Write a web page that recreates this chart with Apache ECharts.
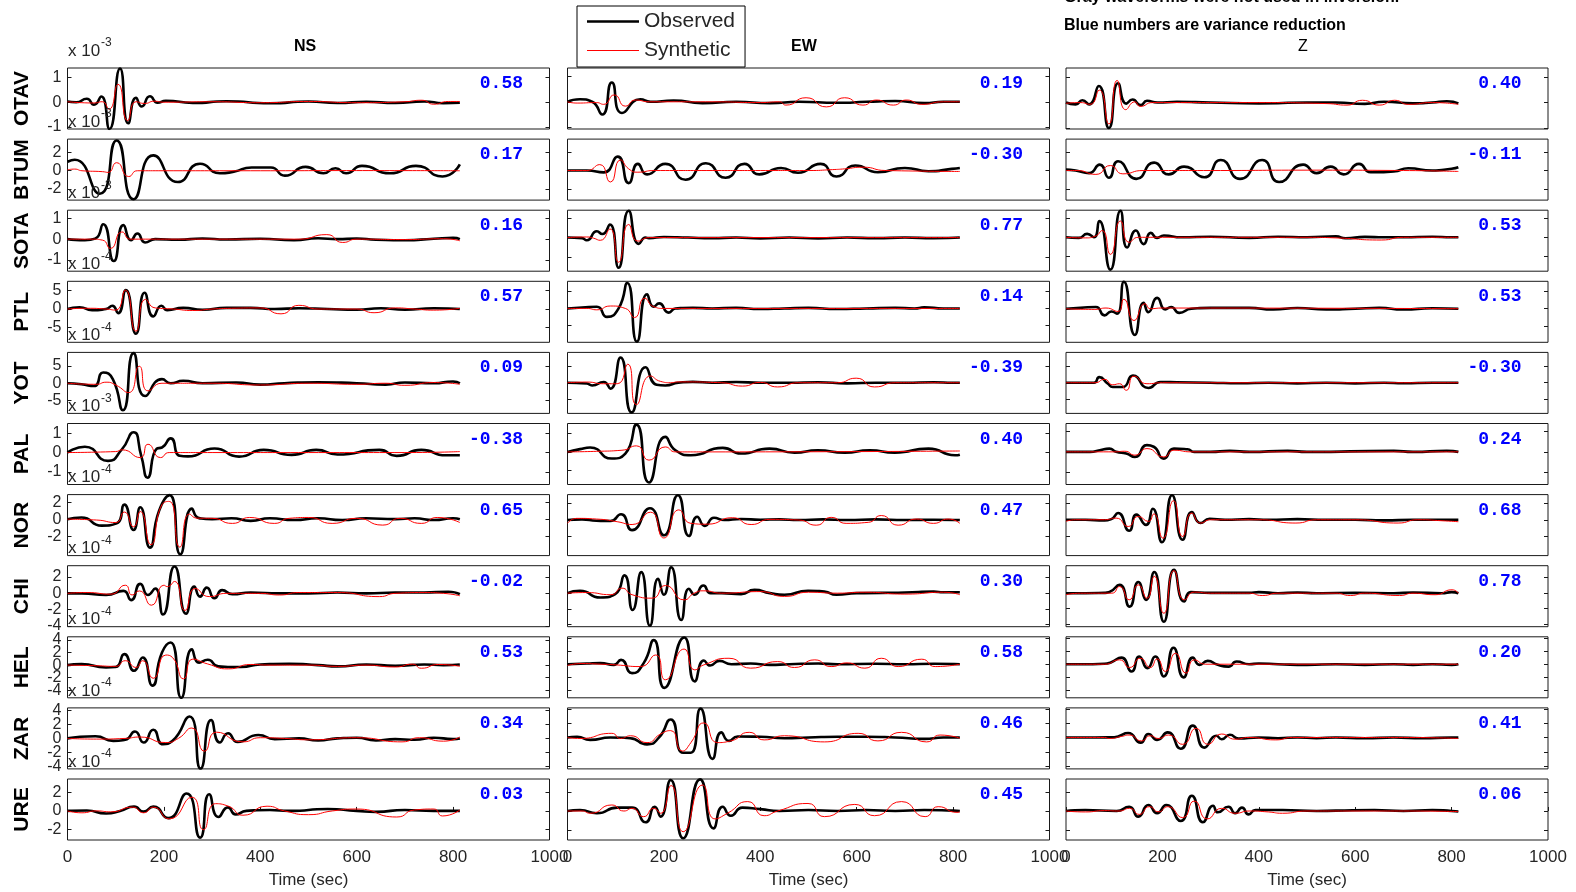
<!DOCTYPE html>
<html><head><meta charset="utf-8">
<script src="https://cdn.jsdelivr.net/npm/echarts@6/dist/echarts.min.js"></script>
<style>html,body{margin:0;padding:0;background:#fff}#c{width:1576px;height:892px}</style>
</head><body><div id="c"></div>
<script>
// ---------------- DATA ----------------
const stations = ['OTAV','BTUM','SOTA','PTL','YOT','PAL','NOR','CHI','HEL','ZAR','URE'];
const components = ['NS','EW','Z'];
const exponentNS = ['-3','-3','-3','-4','-4','-3','-4','-4','-4','-4','-4'];
const vrNS = [0.58, 0.17, 0.16, 0.57, 0.09, -0.38, 0.65, -0.02, 0.53, 0.34, 0.03];
const vrEW = [0.19, -0.30, 0.77, 0.14, -0.39, 0.40, 0.47, 0.30, 0.58, 0.46, 0.45];
const vrZ  = [0.40, -0.11, 0.53, 0.53, -0.30, 0.24, 0.68, 0.78, 0.20, 0.41, 0.06];
const xTicks = [0, 200, 400, 600, 800, 1000];
const ticksNS = [[-1,0,1],[-2,0,2],[-1,0,1],[-5,0,5],[-5,0,5],[-1,0,1],[-2,0,2],[-4,-2,0,2],[-4,-2,0,2,4],[-4,-2,0,2,4],[-2,0,2]];
const ticksEW = [[-1,0,1],[-1,0,1],[-1,0,1],[-1,0,1],[-1,0,1],[-1,0,1],[-1,0,1],[-2,-1,0,1],[-2,-1,0,1,2],[-2,-1,0,1,2],[-1,0,1]];
const ticksZ  = [[-1,0,1],[-1,0,1],[-1,0,1],[-1,0,1],[-1,0,1],[-1,0,1],[-1,0,1],[-2,-1,0,1],[-2,-1,0,1,2],[-2,-1,0,1,2],[-1,0,1]];
const limNS = [[-1.08,1.38],[-3.2,3.45],[-1.55,1.4],[-9.0,7.5],[-8.7,8.9],[-1.65,1.5],[-4.3,2.9],[-4.1,3.4],[-5.2,4.5],[-4.4,4.4],[-3.1,3.4]];
const limEW = [[-1.07,1.33],[-1.6,1.7],[-1.72,1.4],[-1.96,1.57],[-1.82,1.8],[-1.78,1.55],[-2.14,1.53],[-2.15,1.76],[-2.55,2.08],[-2.2,2.07],[-1.54,1.7]];
const limZ  = [[-1.04,1.36],[-1.6,1.7],[-1.75,1.4],[-1.96,1.6],[-1.82,1.8],[-1.6,1.39],[-2.18,1.53],[-2.17,1.78],[-2.55,2.08],[-2.2,2.07],[-1.54,1.7]];

// waveforms: [time (s), amplitude] at turning points
const NS_OTAV_obs = [[0,0.03],[18,0],[40,0.14],[55,-0.1],[70,0.23],[87,-1.08],[109,1.36],[126,-0.85],[142,0.18],[154,-0.17],[171,0.24],[187,-0.02],[204,0.06],[260,-0.03],[330,0.04],[420,-0.04],[500,0.03],[560,-0.03],[620,0.02],[680,-0.03],[740,0.03],[780,-0.04],[814,-0.02]];
const NS_OTAV_syn = [[0,0.02],[30,-0.02],[55,-0.03],[72,0.02],[86,-0.28],[105,0.72],[125,-0.74],[142,0.02],[160,-0.05],[180,0.04],[200,0],[300,0.02],[400,-0.02],[500,0.03],[600,-0.02],[700,0.02],[735,0.08],[760,-0.08],[790,0.03],[814,0.03]];
const NS_BTUM_obs = [[0,0.98],[15,1.2],[67,-2.5],[102,3.3],[137,-3.1],[178,1.68],[229,-1.23],[275,0.77],[316,-0.28],[345,-0.1],[382,0.35],[422,0.35],[451,-0.53],[494,0.42],[531,-0.28],[556,0.28],[578,-0.28],[611,0.53],[669,-0.28],[723,0.53],[778,-0.63],[814,0.7]];
const NS_BTUM_syn = [[0,0.1],[15,0.18],[30,0],[73,-0.1],[84,-0.18],[102,0.88],[127,-0.63],[145,0],[200,0],[400,0],[600,0.02],[814,0]];
const NS_SOTA_obs = [[0,0],[36,-0.05],[58,0.03],[74,0.72],[96,-1.06],[116,0.68],[132,-0.05],[145,0.27],[161,-0.16],[182,0],[230,-0.03],[280,0.03],[330,-0.02],[400,0.02],[470,-0.05],[520,0.04],[560,0],[600,0.03],[640,-0.03],[700,-0.05],[760,0.02],[800,0.06],[814,0]];
const NS_SOTA_syn = [[0,0],[50,0],[73,-0.05],[89,-0.45],[113,0.35],[131,0],[300,0],[480,0],[538,0.22],[571,-0.16],[600,0],[700,-0.02],[780,0.02],[814,-0.08]];
const NS_PTL_obs = [[0,0],[25,0.5],[51,-0.3],[80,0],[93,0.9],[105,-1.1],[121,5.1],[142,-6.7],[160,4.4],[178,-2.0],[195,0.9],[207,-0.3],[240,0.3],[280,-0.2],[330,0.3],[380,0.3],[430,0],[480,0.2],[540,0],[600,-0.2],[650,0.2],[700,-0.2],[760,0.2],[814,0]];
const NS_PTL_syn = [[0,0],[40,0.2],[80,0],[100,-0.3],[120,5.1],[142,-6.0],[162,2.6],[182,0.3],[220,0],[260,-0.4],[300,0],[340,0.2],[400,0.3],[443,-1.3],[480,1.0],[520,0],[600,0],[636,-1.0],[680,0.3],[720,0],[760,-0.3],[814,0.2]];
const NS_YOT_obs = [[0,0],[29,-0.3],[55,-0.8],[74,3.1],[94,1.2],[115,-7.8],[137,8.7],[161,-3.7],[196,1.2],[214,0],[240,0.7],[280,0],[350,0.2],[400,-0.4],[450,0],[520,0.3],[600,0],[660,-0.4],[700,0.2],[760,0],[800,0.5],[814,0]];
const NS_YOT_syn = [[0,0],[60,-0.3],[80,0.3],[100,-0.5],[127,-2.7],[149,4.9],[167,-2.2],[196,0],[300,0],[400,-0.5],[500,0],[600,-0.3],[660,0],[700,-0.6],[760,0.2],[814,-0.3]];
const NS_PAL_obs = [[0,0],[36,0.3],[84,-0.43],[113,0.17],[137,1.05],[153,-0.17],[166,-1.3],[185,0.2],[196,0.26],[214,0.73],[233,-0.17],[250,-0.2],[305,0.21],[356,-0.21],[407,0.14],[465,-0.12],[516,0.14],[560,-0.1],[647,0.14],[683,-0.17],[734,0.14],[785,-0.14],[814,-0.14]];
const NS_PAL_syn = [[0,0],[100,0.05],[113,0.14],[151,-0.26],[167,0.43],[193,-0.26],[211,0],[300,0],[500,0],[700,0],[814,0.05]];
const NS_NOR_obs = [[0,0],[29,0.2],[71,-0.76],[102,-0.5],[118,1.72],[137,-1.28],[151,1.4],[171,-3.36],[190,1.0],[212,2.84],[234,-4.16],[258,1.24],[273,0.12],[300,0],[340,0.1],[380,-0.2],[420,0.1],[470,-0.1],[520,0.1],[570,-0.1],[620,0.1],[680,0],[720,0.1],[760,-0.1],[800,0.1],[814,0]];
const NS_NOR_syn = [[0,0],[60,-0.1],[100,-0.4],[118,0.84],[137,-0.9],[151,0.9],[173,-3.0],[196,1.72],[211,2.1],[233,-3.3],[253,0.6],[269,0.12],[300,0.1],[342,-0.5],[378,0.2],[429,-0.5],[460,0.1],[500,0.2],[549,-0.5],[600,0.1],[654,-0.7],[690,0.1],[734,-0.5],[767,0.2],[814,-0.4]];
const NS_CHI_obs = [[0,0],[30,0],[80,-0.2],[116,0.3],[132,-0.83],[151,1.17],[167,-0.2],[182,0.6],[198,-2.6],[222,3.3],[246,-2.5],[263,0.83],[275,-0.4],[289,0.7],[305,-0.6],[321,0.4],[342,-0.1],[380,0.1],[440,0],[500,0],[560,0.1],[620,0],[680,0.1],[740,0.1],[790,0.2],[814,-0.1]];
const NS_CHI_syn = [[0,0],[40,0.1],[90,-0.1],[120,1.0],[134,-0.2],[149,0.3],[174,-1.46],[200,1.0],[207,0.83],[222,1.46],[244,-2.1],[265,0.6],[294,-0.4],[330,0],[400,0],[440,-0.2],[480,0.1],[560,0.1],[647,-0.4],[680,0],[740,0.1],[780,0],[814,-0.3]];
const NS_HEL_obs = [[0,0],[29,0.15],[80,-0.37],[100,-0.3],[118,1.74],[138,-0.9],[156,1.2],[176,-3.26],[196,2.0],[214,3.6],[236,-5.2],[258,2.5],[273,0.4],[291,0.84],[313,-0.2],[360,-0.3],[400,0.1],[460,0.2],[520,0],[560,-0.2],[620,0.1],[680,-0.1],[740,0.1],[780,0],[814,0.1]];
const NS_HEL_syn = [[0,0],[60,-0.1],[100,-0.2],[120,0.7],[142,-0.37],[156,0.7],[178,-2.1],[204,1.6],[218,1.2],[241,-2.2],[260,0.95],[290,0.2],[334,-0.6],[380,0.1],[420,0],[500,0],[560,-0.2],[620,0],[680,-0.3],[716,0.15],[734,-0.5],[770,0.1],[814,-0.2]];
const NS_ZAR_obs = [[0,0],[58,0.3],[95,-0.35],[120,-0.2],[140,1.0],[158,-0.6],[178,1.25],[198,-0.85],[218,-0.35],[253,3.15],[276,-4.35],[298,2.65],[316,-0.6],[333,0.75],[353,-0.5],[396,0.5],[430,-0.1],[480,0],[520,-0.3],[560,0],[600,0.1],[640,-0.3],[680,-0.1],[720,-0.2],[760,0.1],[800,-0.1],[814,0]];
const NS_ZAR_syn = [[0,0],[60,-0.1],[120,0],[150,0.2],[204,-0.6],[230,0],[258,1.5],[284,-1.85],[309,0.9],[364,-0.5],[400,0.1],[450,0],[500,-0.2],[600,0.1],[694,-0.5],[730,0.1],[780,-0.4],[814,0.2]];
const NS_URE_obs = [[0,0],[40,0.05],[80,-0.27],[109,0],[138,0.46],[158,-0.08],[178,0.46],[209,-0.77],[247,1.85],[275,-2.85],[294,1.77],[313,-0.65],[333,0.38],[349,-0.38],[371,0],[420,0.1],[460,0],[540,0.2],[600,0],[640,-0.1],[700,0.1],[760,0],[814,0]];
const NS_URE_syn = [[0,0],[30,-0.2],[60,0],[90,-0.1],[135,0.4],[158,-0.2],[178,0.4],[211,-0.85],[258,1.46],[282,-2.0],[307,0.77],[334,0.5],[364,-0.46],[414,0.5],[450,0],[500,-0.4],[550,0],[600,0.2],[683,-0.65],[720,0.1],[760,0.2],[778,-0.54],[814,0.1]];

const EW_OTAV_obs = [[0,0],[26,0.1],[51,0],[72,-0.5],[92,0.76],[113,-0.44],[151,0.1],[172,0],[220,0.05],[280,-0.05],[350,0],[420,-0.05],[480,0],[560,-0.04],[620,0],[680,0.03],[740,-0.05],[780,0],[814,0]];
const EW_OTAV_syn = [[0,0],[20,-0.05],[60,-0.03],[75,-0.1],[97,0.27],[120,-0.17],[141,0.07],[170,0],[300,0],[400,-0.03],[440,0],[453,-0.13],[495,0.16],[537,-0.2],[575,0.16],[613,-0.13],[641,0.07],[676,-0.13],[703,0.07],[735,-0.1],[780,0],[814,0]];
const EW_BTUM_obs = [[0,0],[40,0],[75,-0.1],[104,0.75],[127,-0.68],[146,0.36],[165,-0.21],[203,0.36],[245,-0.5],[287,0.39],[328,-0.39],[367,0.36],[398,-0.21],[443,0.14],[478,-0.12],[525,0.36],[558,-0.32],[597,0.27],[644,-0.09],[700,0.14],[749,-0.04],[797,0.09],[814,0.14]];
const EW_BTUM_syn = [[0,0],[40,0],[67,0.32],[89,-0.62],[110,0.57],[127,0.09],[146,-0.09],[180,0],[300,0],[400,0],[500,0],[550,0.05],[575,0.09],[613,0.18],[660,0],[814,-0.05]];
const EW_SOTA_obs = [[0,0],[30,-0.03],[40,-0.14],[61,0.32],[72,0.18],[88,0.67],[106,-1.54],[127,1.37],[148,-0.32],[162,0],[169,-0.03],[200,0.03],[250,0],[300,-0.03],[350,0],[400,-0.05],[460,0],[520,-0.05],[580,0],[640,-0.03],[700,0],[760,-0.03],[814,0]];
const EW_SOTA_syn = [[0,0],[40,0.03],[54,-0.03],[68,-0.14],[88,0.44],[106,-1.26],[127,0.67],[146,-0.18],[170,0],[814,0]];
const EW_PTL_obs = [[0,0],[30,0.05],[61,0.1],[82,-0.49],[106,0],[124,1.47],[144,-1.92],[165,0.82],[179,0.1],[190,0.29],[210,-0.24],[224,0],[260,0.03],[300,0],[350,0.03],[400,-0.03],[450,0],[500,0.03],[560,-0.03],[620,0],[680,0.03],[720,0],[740,0.06],[780,0],[814,0]];
const EW_PTL_syn = [[0,0],[40,0],[61,-0.08],[89,0.14],[120,0],[139,-0.53],[160,0.59],[179,0.1],[200,0],[814,0]];
const EW_YOT_obs = [[0,0],[40,-0.05],[51,-0.16],[75,0.04],[89,-0.35],[110,1.5],[133,-1.76],[162,0.92],[185,-0.12],[203,-0.16],[230,0],[260,0.05],[300,0],[350,0.04],[400,0],[460,0],[520,0.03],[580,-0.04],[640,0],[700,0],[760,0.03],[800,0],[814,0]];
const EW_YOT_syn = [[0,0],[40,0.04],[75,-0.06],[103,-0.06],[125,1.1],[143,-1.3],[172,0.4],[193,0.08],[214,0],[230,0.05],[320,0],[363,-0.2],[400,0.02],[436,-0.25],[480,0],[560,0],[599,0.27],[637,-0.25],[680,0],[760,0],[814,0]];
const EW_PAL_obs = [[0,0],[26,0.15],[47,0.24],[92,-0.36],[120,-0.09],[143,1.49],[169,-1.67],[203,0.82],[224,0.09],[256,-0.18],[322,0.22],[360,-0.09],[419,0.18],[471,-0.04],[519,0.09],[575,-0.04],[627,0.09],[679,-0.04],[749,0.18],[804,-0.18],[814,-0.15]];
const EW_PAL_syn = [[0,0],[60,0.03],[113,0.09],[143,0.33],[169,-0.45],[203,0.27],[224,0],[300,0],[814,0.05]];
const EW_NOR_obs = [[0,0],[30,0.04],[60,-0.04],[89,-0.06],[111,0.35],[134,-0.61],[171,0.71],[200,-0.92],[229,1.49],[252,-0.96],[269,0.2],[285,-0.35],[304,0.14],[325,0],[360,0.06],[400,0.02],[440,0.04],[480,0],[530,0.04],[580,0],[640,0.04],[700,0],[760,0.02],[814,0]];
const EW_NOR_syn = [[0,-0.2],[19,0.1],[60,0.06],[103,-0.1],[134,-0.27],[172,0.47],[200,-1.08],[231,0.61],[256,-0.2],[290,-0.25],[342,0.14],[381,-0.27],[420,0.04],[480,0],[516,-0.31],[547,0.16],[578,-0.2],[624,-0.14],[651,0.27],[686,-0.31],[724,0.06],[759,-0.2],[790,0.06],[814,-0.2]];
const EW_CHI_obs = [[0,0],[26,0.15],[68,-0.28],[99,-0.06],[118,1.14],[135,-1.08],[153,1.35],[171,-2.09],[188,0.92],[200,-0.1],[215,1.66],[236,-1.72],[252,0.28],[264,-0.1],[282,0.49],[297,0],[320,0],[360,-0.06],[388,0.21],[420,0],[450,-0.1],[499,0.15],[533,0.1],[558,-0.1],[600,0],[700,0.04],[760,0.1],[780,0.06],[814,0.06]];
const EW_CHI_syn = [[0,0],[40,0.04],[90,-0.1],[113,0.32],[134,-0.1],[176,-0.32],[203,0.49],[242,-0.43],[263,0],[283,0.15],[320,0],[400,0.1],[450,-0.21],[500,0.06],[560,0],[617,0.06],[700,-0.06],[780,0.06],[814,-0.1]];
const EW_HEL_obs = [[0,0],[40,0.05],[68,0.08],[96,-0.05],[111,0.33],[134,-0.68],[158,0.08],[179,1.83],[201,-1.8],[242,2.03],[264,-1.3],[283,0.28],[296,-0.1],[315,0.25],[340,0],[380,0.05],[420,-0.05],[460,0],[520,0.05],[560,0],[640,0.03],[700,0],[760,0.03],[814,0]];
const EW_HEL_syn = [[0,-0.1],[30,0.05],[70,0],[100,-0.05],[151,-0.18],[183,0.7],[203,-1.18],[242,1.15],[264,-0.43],[283,-0.05],[335,0.45],[380,-0.3],[436,0.2],[471,-0.25],[513,0.33],[547,-0.18],[580,0.1],[617,-0.3],[651,0.45],[686,-0.18],[735,0.38],[763,-0.18],[814,0]];
const EW_ZAR_obs = [[0,0],[20,0.05],[47,-0.17],[89,0],[130,-0.05],[165,-0.48],[190,0],[214,1.26],[240,-1.07],[256,-1.07],[276,2.02],[301,-1.5],[319,0.36],[335,-0.24],[353,0.07],[400,0.05],[450,-0.05],[500,0],[560,0.05],[620,0.05],[680,0],[740,-0.1],[780,0],[814,0]];
const EW_ZAR_syn = [[0,0],[26,-0.07],[92,0.29],[110,-0.07],[131,0.12],[165,-0.36],[193,0.24],[214,0.48],[238,-0.95],[256,-0.36],[283,1.02],[311,-0.36],[339,-0.24],[377,0.36],[408,-0.17],[450,0.12],[533,-0.31],[603,0.29],[644,-0.24],[693,0.36],[745,-0.31],[773,0.17],[814,-0.05]];
const EW_URE_obs = [[0,0],[26,0.05],[61,-0.12],[103,0.18],[134,0.18],[162,-0.6],[181,0.23],[193,-0.3],[214,1.65],[240,-1.45],[275,1.68],[303,-0.92],[322,0.23],[339,-0.25],[363,0.18],[400,0.1],[440,0],[500,0.05],[560,0],[620,0.05],[680,0],[740,0.05],[800,0.02],[814,0]];
const EW_URE_syn = [[0,0],[30,0],[47,-0.12],[92,0.32],[117,0],[134,0.14],[158,-0.3],[179,0.14],[193,-0.12],[215,1.35],[240,-1.1],[280,1.38],[306,-0.42],[332,-0.12],[374,0.5],[408,-0.25],[436,0],[499,0.4],[533,-0.3],[596,0.35],[637,-0.25],[693,0.5],[742,-0.3],[769,0.23],[808,-0.07],[814,-0.05]];

const Z_OTAV_obs = [[0,0],[20,-0.07],[34,0.09],[48,-0.07],[68,0.65],[89,-1.0],[108,0.76],[125,-0.04],[138,0.12],[155,-0.1],[168,0.07],[190,0],[230,0.03],[300,0],[400,-0.03],[500,0],[560,0],[620,-0.05],[660,0.03],[720,-0.03],[760,0],[790,0.05],[814,-0.03]];
const Z_OTAV_syn = [[0,-0.03],[30,0],[50,-0.07],[69,0.49],[89,-0.84],[106,0.87],[124,-0.28],[143,0.03],[154,-0.15],[180,0],[400,0],[541,-0.04],[583,-0.1],[615,0.09],[650,-0.1],[682,0.09],[710,-0.07],[760,0],[814,-0.07]];
const Z_BTUM_obs = [[0,0.05],[20,0],[48,-0.14],[70,0.32],[89,-0.39],[108,0.5],[146,-0.45],[183,0.43],[213,-0.21],[245,0.21],[287,-0.36],[321,0.57],[361,-0.45],[407,0.57],[442,-0.62],[492,0.32],[520,-0.14],[549,0.21],[576,-0.21],[608,0.36],[632,-0.09],[680,-0.05],[710,0.12],[760,0],[800,0.1],[814,0.18]];
const Z_BTUM_syn = [[0,0],[23,0],[62,-0.21],[92,0.27],[118,-0.18],[160,0],[300,0],[500,0.02],[700,0],[814,-0.05]];
const Z_SOTA_obs = [[0,0],[27,-0.03],[44,0.18],[58,0],[69,0.84],[92,-1.67],[113,1.37],[127,-0.53],[145,0.35],[161,-0.35],[176,0.23],[189,-0.03],[203,0.09],[240,0],[300,0.03],[380,-0.03],[440,0.03],[500,0],[560,0.05],[580,-0.05],[620,0.02],[660,0],[700,0],[760,0.03],[800,0],[814,0]];
const Z_SOTA_syn = [[0,0],[40,-0.03],[60,0.05],[75,0.35],[92,-0.88],[113,0.84],[131,-0.26],[150,0],[200,0],[500,0],[560,-0.03],[654,-0.14],[700,0],[814,0]];
const Z_PTL_obs = [[0,0],[30,0.05],[62,0.1],[80,-0.39],[94,-0.16],[106,-0.29],[120,1.57],[143,-1.53],[161,0.35],[171,-0.2],[189,0.63],[206,-0.04],[218,0.1],[235,-0.24],[260,0],[300,0.05],[380,0.05],[430,-0.05],[480,0.04],[540,-0.05],[600,0],[650,0.05],[700,-0.05],[760,0.03],[814,0]];
const Z_PTL_syn = [[0,0],[60,-0.04],[83,0.04],[108,-0.16],[120,0.55],[141,-0.69],[164,0.29],[175,0],[200,0.04],[814,0]];
const Z_YOT_obs = [[0,0],[58,0],[69,0.33],[87,-0.06],[97,-0.25],[118,-0.25],[139,0.43],[171,-0.31],[196,0.04],[230,0.03],[300,0],[360,-0.03],[420,0],[480,-0.04],[540,0],[600,-0.04],[660,0],[700,-0.03],[760,0],[814,0]];
const Z_YOT_syn = [[0,0],[60,0],[80,0.2],[97,-0.12],[111,-0.06],[125,-0.45],[141,0.39],[168,-0.06],[200,0],[814,0]];
const Z_PAL_obs = [[0,0],[50,0],[70,0.08],[90,0.16],[104,0],[125,-0.08],[143,-0.25],[168,0.33],[182,0.25],[203,-0.33],[224,0.16],[252,0.13],[266,0],[300,0],[340,0.05],[380,0],[460,0.05],[500,0],[680,0.05],[720,0],[790,0.05],[814,0]];
const Z_PAL_syn = [[0,0],[100,0],[122,0.03],[143,-0.16],[168,0.16],[203,-0.25],[224,0.08],[260,0],[814,0]];
const Z_NOR_obs = [[0,0],[40,0],[80,-0.04],[94,0.04],[108,0.41],[131,-0.67],[146,0.31],[166,-0.31],[180,0.67],[199,-1.37],[220,1.49],[242,-1.22],[261,0.47],[279,-0.2],[298,0.06],[330,0],[380,0.04],[420,0],[480,0.04],[540,0],[600,0],[660,-0.04],[720,0],[780,0],[814,0]];
const Z_NOR_syn = [[0,-0.1],[20,0],[80,0],[104,0.1],[129,-0.41],[150,0.2],[171,-0.1],[182,0.35],[201,-1.12],[223,1.16],[242,-1.02],[261,0.41],[279,-0.2],[300,0],[400,0],[477,-0.2],[520,0],[600,0],[689,-0.2],[730,0],[780,-0.06],[814,-0.12]];
const Z_CHI_obs = [[0,0],[40,0],[80,0.02],[90,0.07],[111,0.54],[132,-0.87],[150,0.72],[166,-0.43],[183,1.37],[203,-1.85],[224,1.52],[245,-0.54],[259,0.07],[300,0.02],[380,0.02],[400,0.07],[440,0],[480,0.04],[520,0],[600,0.02],[680,0],[720,0.04],[780,0],[800,0.07],[814,0]];
const Z_CHI_syn = [[0,-0.1],[30,0],[95,0],[111,0.43],[131,-0.43],[150,0.54],[168,-0.33],[183,1.09],[203,-1.3],[224,1.46],[246,-0.43],[266,0.07],[300,0],[380,0],[407,-0.15],[440,0],[560,0],[590,-0.15],[620,0],[692,-0.15],[720,0],[766,-0.1],[801,0.22],[814,0]];
const Z_HEL_obs = [[0,0],[40,0],[80,0.03],[94,0.15],[115,0.5],[136,-0.55],[152,0.58],[169,-0.3],[185,0.58],[203,-0.93],[223,1.25],[244,-1.0],[263,0.5],[277,-0.05],[294,0.25],[315,-0.05],[337,-0.18],[354,0.2],[380,0],[400,0.05],[440,0],[500,-0.05],[560,0],[620,-0.05],[680,0],[720,-0.05],[760,0],[800,-0.05],[814,0]];
const Z_HEL_syn = [[0,0],[80,0],[111,0.33],[132,-0.25],[154,0.45],[175,-0.25],[189,0.4],[206,-0.55],[227,0.83],[249,-0.68],[266,0.33],[290,0],[814,0]];
const Z_ZAR_obs = [[0,0],[60,0],[100,0.02],[108,0.07],[129,0.31],[155,-0.36],[171,0.24],[189,-0.17],[211,0.36],[238,-0.79],[263,0.83],[287,-0.71],[312,0.12],[323,-0.12],[340,0.19],[358,-0.07],[400,0],[440,-0.05],[480,0],[520,-0.05],[560,0],[620,-0.05],[680,0],[740,-0.05],[800,0],[814,0]];
const Z_ZAR_syn = [[0,0],[80,0],[90,-0.07],[115,0.07],[131,0.17],[157,-0.24],[175,0.12],[192,-0.07],[213,0.17],[242,-0.48],[270,0.64],[294,-0.48],[323,0.24],[351,-0.12],[380,0],[435,-0.17],[470,0],[600,0],[700,0],[814,-0.07]];
const Z_URE_obs = [[0,0],[40,0.05],[105,0],[131,0.23],[150,-0.3],[171,0.32],[189,-0.12],[208,0.32],[238,-0.53],[261,0.81],[284,-0.6],[305,0.28],[315,-0.07],[337,0.23],[351,-0.12],[365,0.18],[379,-0.18],[393,0.05],[450,0.05],[520,0],[560,0.02],[640,0.05],[700,0],[760,0.05],[800,0],[814,-0.03]];
const Z_URE_syn = [[0,0],[40,-0.05],[80,0.02],[110,0],[132,0.14],[152,-0.18],[173,0.23],[192,-0.04],[211,0.23],[242,-0.35],[266,0.53],[293,-0.42],[323,0.14],[351,-0.12],[380,0],[420,-0.05],[449,-0.12],[500,0],[600,0],[700,0],[814,-0.03]];

// ---------------- BUILD ----------------
const obsNS = [NS_OTAV_obs,NS_BTUM_obs,NS_SOTA_obs,NS_PTL_obs,NS_YOT_obs,NS_PAL_obs,NS_NOR_obs,NS_CHI_obs,NS_HEL_obs,NS_ZAR_obs,NS_URE_obs];
const synNS = [NS_OTAV_syn,NS_BTUM_syn,NS_SOTA_syn,NS_PTL_syn,NS_YOT_syn,NS_PAL_syn,NS_NOR_syn,NS_CHI_syn,NS_HEL_syn,NS_ZAR_syn,NS_URE_syn];
const obsEW = [EW_OTAV_obs,EW_BTUM_obs,EW_SOTA_obs,EW_PTL_obs,EW_YOT_obs,EW_PAL_obs,EW_NOR_obs,EW_CHI_obs,EW_HEL_obs,EW_ZAR_obs,EW_URE_obs];
const synEW = [EW_OTAV_syn,EW_BTUM_syn,EW_SOTA_syn,EW_PTL_syn,EW_YOT_syn,EW_PAL_syn,EW_NOR_syn,EW_CHI_syn,EW_HEL_syn,EW_ZAR_syn,EW_URE_syn];
const obsZ = [Z_OTAV_obs,Z_BTUM_obs,Z_SOTA_obs,Z_PTL_obs,Z_YOT_obs,Z_PAL_obs,Z_NOR_obs,Z_CHI_obs,Z_HEL_obs,Z_ZAR_obs,Z_URE_obs];
const synZ = [Z_OTAV_syn,Z_BTUM_syn,Z_SOTA_syn,Z_PTL_syn,Z_YOT_syn,Z_PAL_syn,Z_NOR_syn,Z_CHI_syn,Z_HEL_syn,Z_ZAR_syn,Z_URE_syn];

const cols = [
  {obs: obsNS, syn: synNS, lim: limNS, ticks: ticksNS, vr: vrNS},
  {obs: obsEW, syn: synEW, lim: limEW, ticks: ticksEW, vr: vrEW},
  {obs: obsZ,  syn: synZ,  lim: limZ,  ticks: ticksZ,  vr: vrZ}
];

const COL_LEFT = [67.5, 567.5, 1066];
const W = 482, H = 61, TOP0 = 68, PITCH = 71.1;
const FONT = 'Liberation Sans, Arial, sans-serif';
const AX = '#1a1a1a';
const plain = v => String(v);

const grids = [], xAxes = [], yAxes = [], series = [], graphics = [];

function labelCfg(show, values) {
  return {show: show && values.length > 0, customValues: values, formatter: plain, hideOverlap: false,
    showMinLabel: true, showMaxLabel: true, fontSize: 16, color: '#262626', margin: 6, fontFamily: FONT};
}

cols.forEach((col, c) => {
  for (let r = 0; r < stations.length; r++) {
    const idx = c * stations.length + r;
    const top = TOP0 + r * PITCH;
    const left = COL_LEFT[c];
    const last = r === stations.length - 1;
    grids.push({left: left, top: top, width: W, height: H, show: true,
      borderColor: AX, borderWidth: 1, backgroundColor: 'transparent', containLabel: false});
    xAxes.push({gridIndex: idx, type: 'value', min: 0, max: 1000, interval: 200,
      axisLine: {show: false}, splitLine: {show: false},
      axisTick: {show: last, inside: true, length: 4, customValues: xTicks, lineStyle: {color: AX}},
      axisLabel: {show: last, customValues: xTicks, formatter: plain, hideOverlap: false,
        showMinLabel: true, showMaxLabel: true,
        fontSize: 17, color: '#262626', margin: 9, fontFamily: FONT},
      name: last ? 'Time (sec)' : '', nameLocation: 'middle', nameGap: 32,
      nameTextStyle: {fontSize: 17, color: '#262626', fontFamily: FONT}});
    const lim = col.lim[r], tk = col.ticks[r];
    // labels split over two overlaid left axes so crowded tick labels are all drawn
    const tkA = tk.filter((v, i) => i % 2 === (tk.length % 2 === 1 ? 0 : 1));
    const tkB = tk.filter(v => tkA.indexOf(v) < 0);
    yAxes.push({gridIndex: idx, type: 'value', min: lim[0], max: lim[1], position: 'left',
      axisLine: {show: false}, splitLine: {show: false},
      axisTick: {show: true, inside: true, length: 4, customValues: tk, lineStyle: {color: AX}},
      axisLabel: labelCfg(c === 0, tkA)});
    yAxes.push({gridIndex: idx, type: 'value', min: lim[0], max: lim[1], position: 'left', offset: 0,
      axisLine: {show: false}, splitLine: {show: false},
      axisTick: {show: false},
      axisLabel: labelCfg(c === 0, tkB)});
    yAxes.push({gridIndex: idx, type: 'value', min: lim[0], max: lim[1], position: 'right',
      axisLine: {show: false}, splitLine: {show: false},
      axisTick: {show: true, inside: true, length: 4, customValues: tk, lineStyle: {color: AX}},
      axisLabel: {show: false}});
    series.push({type: 'line', name: 'Observed', xAxisIndex: idx, yAxisIndex: 3 * idx,
      data: col.obs[r], symbol: 'none', showSymbol: false, smooth: 0.6, z: 3,
      lineStyle: {color: '#000', width: 2.6}, itemStyle: {color: '#000'}, silent: true});
    series.push({type: 'line', name: 'Synthetic', xAxisIndex: idx, yAxisIndex: 3 * idx,
      data: col.syn[r], symbol: 'none', showSymbol: false, smooth: 0.6, z: 4,
      lineStyle: {color: '#ff0000', width: 1}, itemStyle: {color: '#ff0000'}, silent: true});
    // variance reduction numbers
    graphics.push({type: 'text', x: left + W - 26.5, y: top + 15.5, z: 10,
      style: {text: col.vr[r].toFixed(2), fill: '#0000ff', fontSize: 18, fontWeight: 'bold',
        fontFamily: 'Liberation Mono, Courier New, monospace', align: 'right', verticalAlign: 'middle'}});
    if (c === 0) {
      graphics.push({type: 'text', x: 22, y: top + H / 2, rotation: Math.PI / 2, z: 10,
        style: {text: stations[r], fill: '#000', fontSize: 21, fontWeight: 'bold', fontFamily: FONT,
          align: 'center', verticalAlign: 'middle'}});
      graphics.push({type: 'text', x: 68, y: top - 17, z: 10,
        style: {text: 'x 10', fill: '#262626', fontSize: 17, fontFamily: FONT, align: 'left', verticalAlign: 'middle'}});
      graphics.push({type: 'text', x: 101, y: top - 25, z: 10,
        style: {text: exponentNS[r], fill: '#262626', fontSize: 12, fontFamily: FONT, align: 'left', verticalAlign: 'middle'}});
    }
  }
});

// column titles and notes
const titleX = [305, 804, 1303];
components.forEach((t, c) => {
  graphics.push({type: 'text', x: titleX[c], y: 47, z: 10,
    style: {text: t, fill: '#000', fontSize: 16, fontWeight: c < 2 ? 'bold' : 'normal', fontFamily: FONT,
      align: 'center', verticalAlign: 'middle'}});
});
graphics.push({type: 'text', x: 1064, y: 26, z: 10,
  style: {text: 'Blue numbers are variance reduction', fill: '#000', fontSize: 16, fontWeight: 'bold',
    fontFamily: FONT, align: 'left', verticalAlign: 'middle'}});
graphics.push({type: 'text', x: 1064, y: -2.5, z: 10,
  style: {text: 'Gray waveforms were not used in inversion.', fill: '#000', fontSize: 16, fontWeight: 'bold',
    fontFamily: FONT, align: 'left', verticalAlign: 'middle'}});

// legend line icons (thin path with invisible corner points so the bar keeps its thickness)
const iconObs = 'path://M0,0h0.01v0.01h-0.01Z M0,4.7h52v2.6h-52Z M51.99,11.99h0.01v0.01h-0.01Z';
const iconSyn = 'path://M0,0h0.01v0.01h-0.01Z M0,5.5h52v1h-52Z M51.99,11.99h0.01v0.01h-0.01Z';

const chart = echarts.init(document.getElementById('c'), null, {renderer: 'canvas'});
chart.setOption({
  animation: false,
  backgroundColor: '#fff',
  grid: grids, xAxis: xAxes, yAxis: yAxes, series: series,
  legend: {data: [{name: 'Observed', icon: iconObs}, {name: 'Synthetic', icon: iconSyn}],
    left: 577, top: 6, orient: 'vertical',
    itemWidth: 52, itemHeight: 12, itemGap: 8, padding: [5, 10, 6, 10],
    borderColor: '#000', borderWidth: 1, backgroundColor: '#fff', z: 20,
    textStyle: {fontSize: 21, color: '#262626', fontFamily: FONT}},
  graphic: graphics
});
</script></body></html>
